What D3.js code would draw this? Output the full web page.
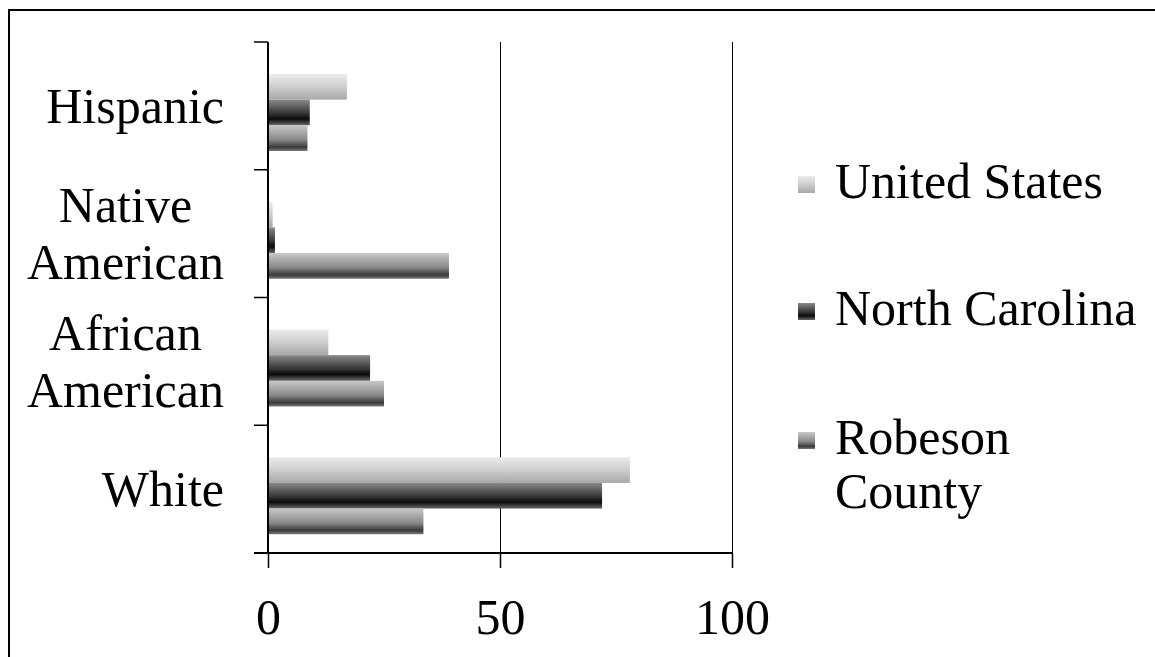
<!DOCTYPE html>
<html><head><meta charset="utf-8">
<script src="https://cdn.jsdelivr.net/npm/d3@7/dist/d3.min.js"></script>
<style>html,body{margin:0;padding:0;background:#fff;}svg{display:block;}</style>
</head><body>
<svg id="chart" width="1155" height="657"></svg>
<script>
const categories = ["Hispanic", "Native American", "African American", "White"];
const categoryLines = [["Hispanic"], ["Native", "American"], ["African", "American"], ["White"]];
const seriesNames = ["United States", "North Carolina", "Robeson County"];
const unitedStates = [17, 1, 13, 78];
const northCarolina = [9, 1.5, 22, 72];
const robesonCounty = [8.5, 39, 25, 33.5];
const xTicks = [0, 50, 100];

const seriesValues = [unitedStates, northCarolina, robesonCounty];
const svg = d3.select("#chart");
const font = "'Liberation Serif', 'Times New Roman', serif";

// gradients
const defs = svg.append("defs");
const grads = [
  [["0%", "#ececec"], ["50%", "#cdcdcd"], ["100%", "#a8a8a8"]],
  [["0%", "#8a8a8a"], ["55%", "#333"], ["75%", "#0a0a0a"], ["100%", "#6a6a6a"]],
  [["0%", "#c8c8c8"], ["55%", "#8a8a8a"], ["85%", "#3a3a3a"], ["100%", "#7a7a7a"]]
];
grads.forEach((stops, i) => {
  const g = defs.append("linearGradient").attr("id", "g" + i)
    .attr("x1", 0).attr("y1", 0).attr("x2", 0).attr("y2", 1);
  stops.forEach(s => g.append("stop").attr("offset", s[0]).attr("stop-color", s[1]));
});

// frame
svg.append("path").attr("d", "M9,660 V10 H1160").attr("fill", "none")
  .attr("stroke", "#000").attr("stroke-width", 2);

const x = d3.scaleLinear().domain([0, 100]).range([268, 732]);
const y = d3.scaleBand().domain(categories).range([42, 553]).padding(0);
const y1 = d3.scaleBand().domain(seriesNames).range([32, 109]).padding(0);

// gridlines
svg.append("g").selectAll("line").data(xTicks.filter(t => t > 0)).join("line")
  .attr("x1", d => Math.round(x(d)) + 0.5).attr("x2", d => Math.round(x(d)) + 0.5)
  .attr("y1", 42).attr("y2", 553)
  .attr("stroke", "#000").attr("stroke-width", 1).attr("shape-rendering", "crispEdges");

// bars
const groups = svg.append("g").selectAll("g").data(categories).join("g")
  .attr("transform", c => `translate(0,${y(c)})`);
groups.selectAll("rect").data((c, ci) => seriesNames.map((s, si) => ({ s, si, v: seriesValues[si][ci] })))
  .join("rect")
  .attr("x", x(0))
  .attr("y", d => y1(d.s))
  .attr("width", d => x(d.v) - x(0))
  .attr("height", y1.bandwidth())
  .attr("fill", d => `url(#g${d.si})`);

// x axis
const xAxis = d3.axisBottom(x).tickValues(xTicks).tickSize(15).tickFormat(d3.format("d")).tickPadding(30);
const gx = svg.append("g").attr("transform", "translate(0,553)").call(xAxis);
gx.select(".domain").remove();
gx.append("line").attr("x1", 254).attr("x2", x(100)).attr("y1", 0).attr("y2", 0)
  .attr("stroke", "#000").attr("stroke-width", 2);
gx.selectAll(".tick line").attr("stroke", "#000").attr("stroke-width", 1.5);
gx.selectAll(".tick text").attr("font-family", font).attr("font-size", 50).attr("fill", "#000");

// y axis
const yEdges = d3.range(categories.length + 1).map(i => 42 + i * y.bandwidth());
svg.append("line").attr("x1", x(0)).attr("x2", x(0)).attr("y1", 42).attr("y2", 553)
  .attr("stroke", "#000").attr("stroke-width", 2);
svg.append("g").selectAll("line").data(yEdges).join("line")
  .attr("x1", 254).attr("x2", x(0)).attr("y1", d => d).attr("y2", d => d)
  .attr("stroke", "#000").attr("stroke-width", 1.5);

// category labels
const labelRight = 224;
const lineGap = 57;
categories.forEach((c, i) => {
  const lines = categoryLines[i];
  const cy = y(c) + y.bandwidth() / 2 + 17;
  const t = svg.append("text").attr("font-family", font).attr("font-size", 50)
    .attr("fill", "#000").attr("text-anchor", "middle");
  const spans = lines.map((l, li) => t.append("tspan").text(l)
    .attr("y", cy + (li - (lines.length - 1) / 2) * lineGap));
  const widths = spans.map(s => s.node().getComputedTextLength());
  const w = d3.max(widths);
  spans.forEach(s => s.attr("x", labelRight - w / 2));
});

// legend
const legendY = [184, 311, 440];
const legendLines = [["United States"], ["North Carolina"], ["Robeson", "County"]];
const lg = svg.append("g");
seriesNames.forEach((s, i) => {
  lg.append("rect").attr("x", 798).attr("y", legendY[i] - 8).attr("width", 17).attr("height", 17)
    .attr("fill", `url(#g${i})`);
  const t = lg.append("text").attr("font-family", font).attr("font-size", 50).attr("fill", "#000");
  legendLines[i].forEach((l, li) => t.append("tspan").attr("x", 835).attr("y", legendY[i] + 14 + li * 54).text(l));
});
</script>
</body></html>
